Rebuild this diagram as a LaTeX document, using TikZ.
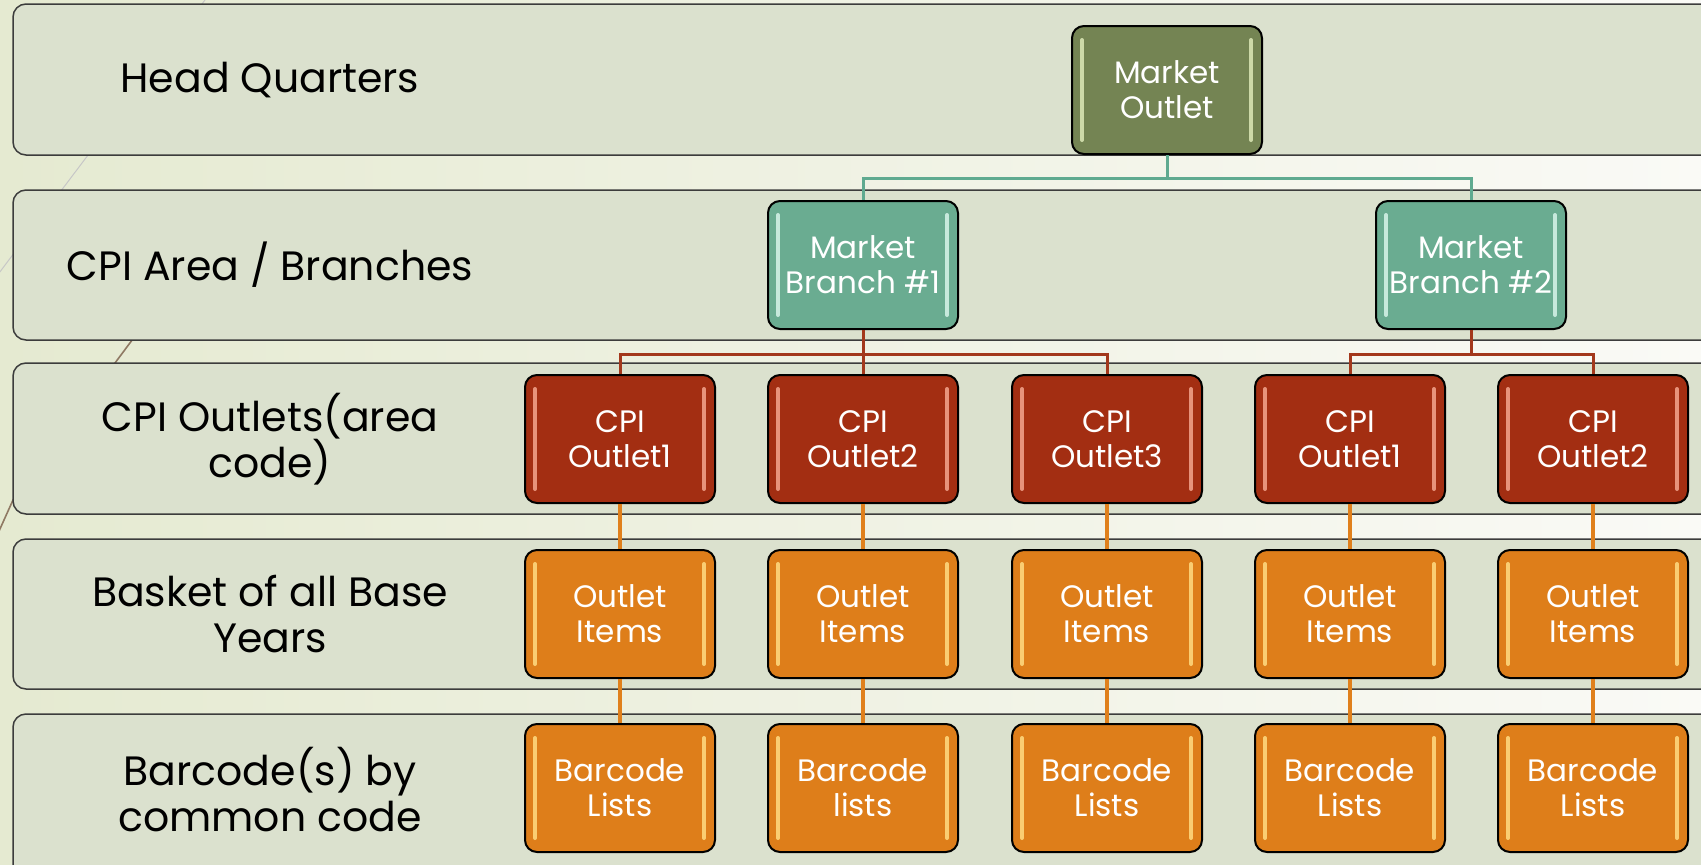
\documentclass[tikz,border=0pt]{standalone}
\usepackage{fontspec}
\setmainfont{Poppins}
\usetikzlibrary{positioning}

\definecolor{bgleft}{HTML}{E5EAD1}
\definecolor{bgright}{HTML}{FAFAF6}
\definecolor{lanefill}{HTML}{DBE1CE}
\definecolor{laneline}{HTML}{3C3C3C}
\definecolor{hqgreen}{HTML}{748453}
\definecolor{hqshine}{HTML}{DDE9B8}
\definecolor{brteal}{HTML}{6AAC91}
\definecolor{brshine}{HTML}{D8F4EA}
\definecolor{cpired}{HTML}{A32E12}
\definecolor{cpishine}{HTML}{F3A58E}
\definecolor{itorange}{HTML}{DE7E1A}
\definecolor{itshine}{HTML}{FFDC82}
\definecolor{tealline}{HTML}{5FAA90}
\definecolor{redline}{HTML}{A3381C}
\definecolor{orangeline}{HTML}{E0801C}

\begin{document}
\begin{tikzpicture}[x=1pt, y=-1pt,
    lane/.style={draw=laneline, fill=lanefill, line width=1.5pt, rounded corners=13pt},
    level/.style={align=center, text=black, font=\fontsize{41}{46}\selectfont},
    box/.style 2 args={draw=black, fill=#1, line width=2pt, rounded corners=12pt,
        minimum width=190pt, minimum height=128pt, inner sep=0pt, align=center,
        text=white, font=\fontsize{31}{35}\selectfont,
        path picture={
            \draw[draw=#2, line width=4pt, line cap=round, opacity=.85]
                ([xshift=10pt, yshift=-14pt]path picture bounding box.north west) --
                ([xshift=10pt, yshift=14pt]path picture bounding box.south west);
            \draw[draw=#2, line width=4pt, line cap=round, opacity=.85]
                ([xshift=-11pt, yshift=-14pt]path picture bounding box.north east) --
                ([xshift=-11pt, yshift=14pt]path picture bounding box.south east);
        }},
    hq/.style={box={hqgreen}{hqshine}},
    branch/.style={box={brteal}{brshine}},
    outlet/.style={box={cpired}{cpishine}},
    item/.style={box={itorange}{itshine}},
    hqlink/.style={draw=tealline, line width=3pt},
    brlink/.style={draw=redline, line width=3pt},
    itlink/.style={draw=orangeline, line width=4pt}]
    \clip (0,0) rectangle (1701,865);
    % background
    \shade[left color=bgleft, right color=bgright] (0,0) rectangle (1701,865);
    \draw[draw=black!22, line width=1pt] (205,0) -- (-10,285);
    \draw[draw=black!50!brown!70, line width=1.6pt] (150,316) -- (13,500) -- (-5,540);
    % lanes
    \draw[lane] (13,4) rectangle (1740,155);
    \draw[lane] (13,190) rectangle (1740,340);
    \draw[lane] (13,363) rectangle (1740,514);
    \draw[lane] (13,539) rectangle (1740,689);
    \draw[lane] (13,714) rectangle (1740,900);
    % lane labels
    \node[level] (l1) at (270,80) {Head Quarters};
    \node[level] (l2) at (270,265) {CPI Area / Branches};
    \node[level] (l3) at (270,439) {CPI Outlets(area\\code)};
    \node[level] (l4) at (270,614) {Basket of all Base\\Years};
    \node[level] (l5) at (270,790) {Barcode(s) by\\common code};
    % nodes
    \node[hq] (mo) at (1167,90) {Market\\Outlet};
    \node[branch] (b1) at (863,265) {Market\\Branch \#1};
    \node[branch] (b2) at (1471,265) {Market\\Branch \#2};
    \node[outlet] (o1) at (620,439) {CPI\\Outlet1};
    \node[outlet] (o2) at (863,439) {CPI\\Outlet2};
    \node[outlet] (o3) at (1107,439) {CPI\\Outlet3};
    \node[outlet] (o4) at (1350,439) {CPI\\Outlet1};
    \node[outlet] (o5) at (1593,439) {CPI\\Outlet2};
    \node[item] (i1) at (620,614) {Outlet\\Items};
    \node[item] (i2) at (863,614) {Outlet\\Items};
    \node[item] (i3) at (1107,614) {Outlet\\Items};
    \node[item] (i4) at (1350,614) {Outlet\\Items};
    \node[item] (i5) at (1593,614) {Outlet\\Items};
    \node[item] (c1) at (620,788) {Barcode\\Lists};
    \node[item] (c2) at (863,788) {Barcode\\lists};
    \node[item] (c3) at (1107,788) {Barcode\\Lists};
    \node[item] (c4) at (1350,788) {Barcode\\Lists};
    \node[item] (c5) at (1593,788) {Barcode\\Lists};
    % edges
    \draw[hqlink] (mo.south) -- ++(0,23) -| (b1.north);
    \draw[hqlink] (mo.south) -- ++(0,23) -| (b2.north);
    \draw[brlink] (b1.south) -- ++(0,24) -| (o1.north);
    \draw[brlink] (b1.south) -- (o2.north);
    \draw[brlink] (b1.south) -- ++(0,24) -| (o3.north);
    \draw[brlink] (b2.south) -- ++(0,24) -| (o4.north);
    \draw[brlink] (b2.south) -- ++(0,24) -| (o5.north);
    \draw[itlink] (o1) -- (i1);
    \draw[itlink] (o2) -- (i2);
    \draw[itlink] (o3) -- (i3);
    \draw[itlink] (o4) -- (i4);
    \draw[itlink] (o5) -- (i5);
    \draw[itlink] (i1) -- (c1);
    \draw[itlink] (i2) -- (c2);
    \draw[itlink] (i3) -- (c3);
    \draw[itlink] (i4) -- (c4);
    \draw[itlink] (i5) -- (c5);
\end{tikzpicture}
\end{document}
